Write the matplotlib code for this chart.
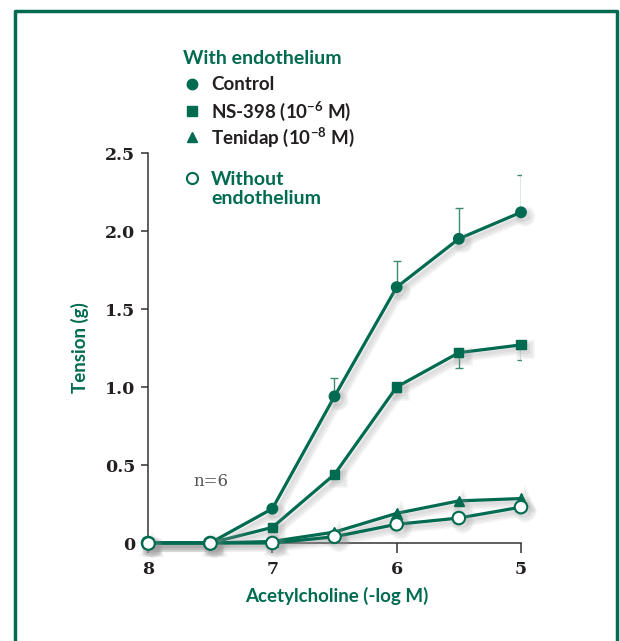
import matplotlib
matplotlib.use("Agg")
import matplotlib.pyplot as plt
import matplotlib.patheffects as pe
from matplotlib.lines import Line2D

plt.rcParams['mathtext.fontset'] = 'custom'
plt.rcParams['mathtext.rm'] = 'Lato:bold'
plt.rcParams['mathtext.it'] = 'Lato:bold'
plt.rcParams['mathtext.bf'] = 'Lato:bold'

# data
log_conc = [8, 7.5, 7, 6.5, 6, 5.5, 5]
control = [0, 0, 0.22, 0.94, 1.64, 1.95, 2.12]
control_err = [0, 0, 0, 0.12, 0.17, 0.20, 0.24]
ns398 = [0, 0, 0.10, 0.44, 1.00, 1.22, 1.27]
ns398_err = [0, 0, 0, 0, 0.03, 0.10, 0.10]
tenidap = [0, 0, 0.01, 0.07, 0.19, 0.27, 0.285]
no_endo = [0, 0, 0, 0.04, 0.12, 0.16, 0.23]

x_ticks = [8, 7, 6, 5]
y_ticks = [0, 0.5, 1.0, 1.5, 2.0, 2.5]
y_ticklabels = ['0', '0.5', '1.0', '1.5', '2.0', '2.5']

GREEN = '#006b50'
DARK = '#231f20'
W, H = 620, 641


def fx(x):
    return x / W


def fy(y):
    return 1 - y / H


fig = plt.figure(figsize=(6.2, 6.41), dpi=100)
ax = fig.add_axes([fx(148), fy(543), fx(521) - fx(148), fy(153) - fy(543)])

# soft drop shadow: a few wide, faint layers
shadow = [
    pe.SimpleLineShadow(offset=(3, -3), shadow_color='#999999', alpha=0.10, linewidth=7),
    pe.SimpleLineShadow(offset=(3, -3), shadow_color='#999999', alpha=0.12, linewidth=4.5),
    pe.SimpleLineShadow(offset=(2.5, -2.5), shadow_color='#999999', alpha=0.12),
    pe.Normal(),
]

ax.errorbar(log_conc, control, yerr=[[0] * 7, control_err], fmt='none', ecolor='#3d8a74',
            elinewidth=1.0, capsize=3, capthick=1.0, zorder=2)
ax.errorbar(log_conc, ns398, yerr=[ns398_err, [0] * 7], fmt='none', ecolor='#3d8a74',
            elinewidth=1.0, capsize=3, capthick=1.0, zorder=2)

ax.plot(log_conc, no_endo, color=GREEN, lw=2.3, marker='o', ms=9, mfc='white', mec=GREEN,
        mew=1.5, clip_on=False, zorder=5, path_effects=shadow)
ax.plot(log_conc, tenidap, color=GREEN, lw=2.3, marker='^', ms=7.5, clip_on=False, zorder=4,
        path_effects=shadow)
ax.plot(log_conc, ns398, color=GREEN, lw=2.3, marker='s', ms=6.5, clip_on=False, zorder=4,
        path_effects=shadow)
ax.plot(log_conc, control, color=GREEN, lw=2.3, marker='o', ms=7.5, clip_on=False, zorder=4,
        path_effects=shadow)
# the shared open circles at the start sit on top
ax.plot(log_conc[:2], no_endo[:2], ls='none', marker='o', ms=9, mfc='white', mec=GREEN, mew=1.5,
        clip_on=False, zorder=6)

ax.set_xlim(8, 5)
ax.set_ylim(0, 2.5)
for s in ['top', 'right']:
    ax.spines[s].set_visible(False)
for s in ['left', 'bottom']:
    ax.spines[s].set_color('#333333')
    ax.spines[s].set_linewidth(1.1)
ax.set_xticks(x_ticks)
ax.set_xticklabels([str(t) for t in x_ticks])
ax.set_yticks(y_ticks)
ax.set_yticklabels(y_ticklabels)
ax.tick_params(axis='y', length=5, width=1.1, color='#333333', pad=4)
ax.tick_params(axis='x', length=7, width=1.1, color='#333333', pad=6)
for lab in ax.get_xticklabels() + ax.get_yticklabels():
    lab.set_fontfamily('DejaVu Serif')
    lab.set_fontweight('bold')
    lab.set_fontsize(12.5)
    lab.set_color(DARK)

fig.text(fx(337), fy(596), 'Acetylcholine (-log M)', ha='center', va='center', fontsize=13.5,
         fontweight='bold', family='Lato', color=GREEN)
fig.text(fx(80), fy(348), 'Tension (g)', ha='center', va='center', rotation=90, fontsize=13.5,
         fontweight='bold', family='Lato', color=GREEN)
fig.text(fx(193), fy(481), 'n=6', ha='left', va='center', fontsize=12, family='DejaVu Serif',
         color='#555555')

# legend
fig.text(fx(183), fy(59), 'With endothelium', ha='left', va='center', fontsize=14,
         fontweight='bold', family='Lato', color=GREEN)
entries = [('o', 84, 'Control', 7.5), ('s', 111, 'NS-398 (10$^{-6}$ M)', 6.5),
           ('^', 137, 'Tenidap (10$^{-8}$ M)', 7.5)]
for m, yy, label, ms in entries:
    fig.add_artist(Line2D([fx(192)], [fy(yy)], marker=m, ms=ms, color=GREEN, ls='none',
                          transform=fig.transFigure))
    fig.text(fx(211), fy(yy), label, ha='left', va='center', fontsize=13.5, fontweight='bold',
             family='Lato', color=DARK)
fig.add_artist(Line2D([fx(192)], [fy(178)], marker='o', ms=8, mfc='white', mec=GREEN, mew=1.5,
                      ls='none', transform=fig.transFigure))
fig.text(fx(211), fy(189), 'Without\nendothelium', ha='left', va='center', fontsize=14,
         fontweight='bold', family='Lato', color=GREEN, linespacing=1.1)

# frame around the figure
fig.add_artist(Line2D([fx(15), fx(15), fx(617), fx(617)], [0, fy(11), fy(11), 0],
                      color=GREEN, lw=2.5, transform=fig.transFigure))

fig.savefig('out.png', dpi=100, facecolor='white')
